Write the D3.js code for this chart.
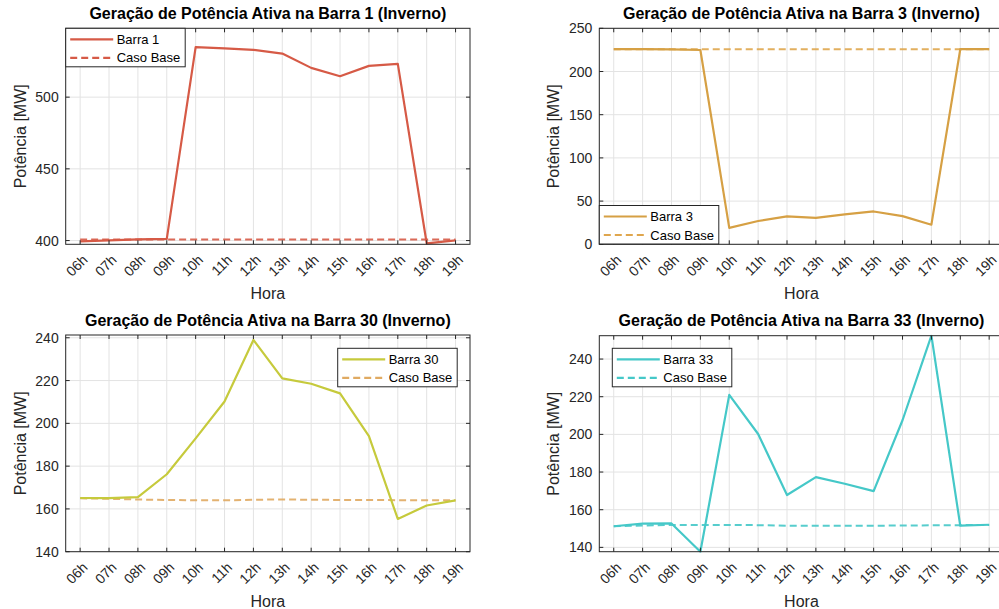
<!DOCTYPE html>
<html>
<head>
<meta charset="utf-8">
<script src="https://cdn.jsdelivr.net/npm/d3@7"></script>
<style>
  html, body { margin: 0; padding: 0; background: #fff; }
  svg { display: block; font-family: "Liberation Sans", Arial, Helvetica, sans-serif; }
</style>
</head>
<body>
<svg id="chart" width="999" height="609"></svg>
<script>
// Hours of the day on the x axis
const hours = ["06h","07h","08h","09h","10h","11h","12h","13h","14h","15h","16h","17h","18h","19h"];

// Active power generation per bus [MW]
const barra1 = [399.5, 400.2, 400.9, 401.2, 534.9, 534.0, 533.0, 530.4, 520.4, 514.6, 521.8, 523.2, 398.1, 400.2];
const base1  = [400.7, 400.7, 400.7, 400.7, 400.7, 400.7, 400.7, 400.7, 400.7, 400.7, 400.7, 400.7, 400.7, 400.7];

const barra3 = [225.8, 225.8, 225.6, 224.9, 19.0, 27.0, 32.4, 30.6, 34.7, 38.0, 32.6, 22.7, 225.8, 225.8];
const base3  = [225.8, 225.8, 225.8, 225.8, 225.8, 225.8, 225.8, 225.8, 225.8, 225.8, 225.8, 225.8, 225.8, 225.8];

const barra30 = [165.1, 165.0, 165.5, 176.2, 193.0, 210.2, 239.0, 221.0, 218.5, 214.0, 194.0, 155.3, 161.6, 164.0];
const base30  = [165.0, 164.7, 164.4, 164.2, 164.0, 164.0, 164.3, 164.4, 164.3, 164.2, 164.2, 164.1, 164.0, 164.0];

const barra33 = [151.2, 152.6, 152.7, 137.7, 221.0, 200.2, 167.8, 177.3, 173.8, 169.9, 207.5, 252.4, 151.5, 152.0];
const base33  = [151.2, 151.6, 151.9, 151.9, 151.9, 151.8, 151.5, 151.5, 151.5, 151.5, 151.6, 151.7, 151.8, 151.9];

// Y-axis ticks per panel
const ticks1  = [400, 450, 500];
const ticks3  = [0, 50, 100, 150, 200, 250];
const ticks30 = [140, 160, 180, 200, 220, 240];
const ticks33 = [140, 160, 180, 200, 220, 240];

const svg = d3.select("#chart");
const axisColor = "#262626";
const gridColor = "#e3e3e3";

const panels = [
  { title: "Geração de Potência Ativa na Barra 1 (Inverno)", name: "Barra 1",
    values: barra1, base: base1, ticks: ticks1, domain: [397.4, 548],
    color: "#d65a46", baseColor: "#d65a46",
    box: { x: 65.7, y: 28.3, w: 404.3, h: 216 }, legend: { x: 65.7, y: 28.3 } },
  { title: "Geração de Potência Ativa na Barra 3 (Inverno)", name: "Barra 3",
    values: barra3, base: base3, ticks: ticks3, domain: [0, 250],
    color: "#d6a044", baseColor: "#dfa64e",
    box: { x: 599.3, y: 28.3, w: 404.3, h: 216 }, legend: { x: 599.3, y: 205.5 } },
  { title: "Geração de Potência Ativa na Barra 30 (Inverno)", name: "Barra 30",
    values: barra30, base: base30, ticks: ticks30, domain: [140, 241.3],
    color: "#c6ca3c", baseColor: "#e0aa62",
    box: { x: 65.7, y: 335, w: 404.3, h: 216.7 }, legend: { x: 337.7, y: 348.3 } },
  { title: "Geração de Potência Ativa na Barra 33 (Inverno)", name: "Barra 33",
    values: barra33, base: base33, ticks: ticks33, domain: [137.7, 252.4],
    color: "#45c8c8", baseColor: "#45c8c8",
    box: { x: 599.3, y: 335.7, w: 404.3, h: 216 }, legend: { x: 612.3, y: 348.3 } }
];

panels.forEach(drawPanel);

function drawPanel(p) {
  const b = p.box;
  const x = d3.scaleLinear().domain([-0.5, hours.length - 0.5]).range([b.x, b.x + b.w]);
  const y = d3.scaleLinear().domain(p.domain).range([b.y + b.h, b.y]);
  const idx = d3.range(hours.length);

  const g = svg.append("g");
  const clipId = "clip-" + p.name.replace(/\s/g, "");
  g.append("clipPath").attr("id", clipId)
    .append("rect").attr("x", b.x).attr("y", b.y - 1).attr("width", b.w).attr("height", b.h + 2);

  // Grid
  g.append("g").selectAll("line.gx").data(idx).join("line")
    .attr("x1", i => x(i)).attr("x2", i => x(i))
    .attr("y1", b.y).attr("y2", b.y + b.h)
    .attr("stroke", gridColor).attr("stroke-width", 1);
  g.append("g").selectAll("line.gy").data(p.ticks).join("line")
    .attr("x1", b.x).attr("x2", b.x + b.w)
    .attr("y1", d => y(d)).attr("y2", d => y(d))
    .attr("stroke", gridColor).attr("stroke-width", 1);

  // Lines
  const line = d3.line().x((d, i) => x(i)).y(d => y(d));
  const plot = g.append("g").attr("clip-path", `url(#${clipId})`);
  plot.append("path").datum(p.base).attr("d", line)
    .attr("fill", "none").attr("stroke", p.baseColor).attr("stroke-width", 2)
    .attr("stroke-dasharray", "7,4").attr("opacity", 0.9);
  plot.append("path").datum(p.values).attr("d", line)
    .attr("fill", "none").attr("stroke", p.color).attr("stroke-width", 2.2)
    .attr("stroke-linejoin", "round");

  // Frame
  g.append("rect").attr("x", b.x).attr("y", b.y).attr("width", b.w).attr("height", b.h)
    .attr("fill", "none").attr("stroke", axisColor).attr("stroke-width", 1);

  // Inward tick marks (bottom/top and left/right)
  const tl = 4;
  const xt = g.append("g");
  idx.forEach(i => {
    xt.append("line").attr("x1", x(i)).attr("x2", x(i)).attr("y1", b.y + b.h).attr("y2", b.y + b.h - tl).attr("stroke", axisColor);
    xt.append("line").attr("x1", x(i)).attr("x2", x(i)).attr("y1", b.y).attr("y2", b.y + tl).attr("stroke", axisColor);
  });
  p.ticks.forEach(t => {
    xt.append("line").attr("x1", b.x).attr("x2", b.x + tl).attr("y1", y(t)).attr("y2", y(t)).attr("stroke", axisColor);
    xt.append("line").attr("x1", b.x + b.w).attr("x2", b.x + b.w - tl).attr("y1", y(t)).attr("y2", y(t)).attr("stroke", axisColor);
  });

  // Tick labels
  g.append("g").selectAll("text").data(p.ticks).join("text")
    .attr("x", b.x - 7).attr("y", d => y(d)).attr("dy", "0.36em")
    .attr("text-anchor", "end").attr("font-size", 14).attr("fill", axisColor)
    .text(d => d);
  g.append("g").selectAll("text").data(idx).join("text")
    .attr("transform", i => `translate(${x(i) + 5},${b.y + b.h + 13}) rotate(-45)`)
    .attr("text-anchor", "end").attr("dy", "0.35em")
    .attr("font-size", 14).attr("fill", axisColor)
    .text(i => hours[i]);

  // Axis labels
  g.append("text").attr("x", b.x + b.w / 2).attr("y", b.y + b.h + 55)
    .attr("text-anchor", "middle").attr("font-size", 16).attr("fill", axisColor).text("Hora");
  g.append("text")
    .attr("transform", `translate(${b.x - 40},${b.y + b.h / 2}) rotate(-90)`)
    .attr("text-anchor", "middle").attr("font-size", 16).attr("fill", axisColor).text("Potência [MW]");

  // Title
  g.append("text").attr("x", b.x + b.w / 2).attr("y", b.y - 9.5)
    .attr("text-anchor", "middle").attr("font-size", 16).attr("font-weight", "bold")
    .attr("fill", "#000").text(p.title);

  // Legend
  const L = p.legend, lw = 119.5, lh = 38.5;
  const lg = g.append("g");
  lg.append("rect").attr("x", L.x).attr("y", L.y).attr("width", lw).attr("height", lh)
    .attr("fill", "#fff").attr("stroke", axisColor).attr("stroke-width", 1);
  const rows = [
    { label: p.name, color: p.color, dash: null, yy: L.y + 11 },
    { label: "Caso Base", color: p.baseColor, dash: "7,4", yy: L.y + 29.5 }
  ];
  rows.forEach(r => {
    lg.append("line").attr("x1", L.x + 4.5).attr("x2", L.x + 47.5).attr("y1", r.yy).attr("y2", r.yy)
      .attr("stroke", r.color).attr("stroke-width", 2.2).attr("stroke-dasharray", r.dash);
    lg.append("text").attr("x", L.x + 51).attr("y", r.yy).attr("dy", "0.36em")
      .attr("font-size", 13).attr("fill", "#000").text(r.label);
  });
}
</script>
</body>
</html>
